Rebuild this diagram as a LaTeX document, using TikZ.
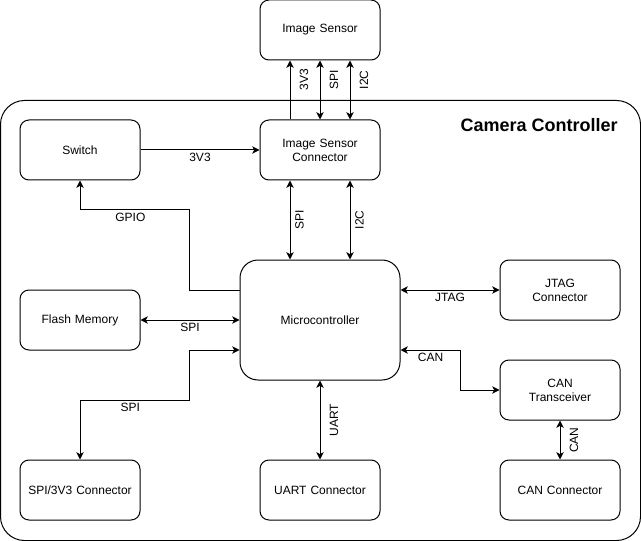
\documentclass[tikz,border=0pt]{standalone}
\usepackage{fontspec}
\setmainfont{Liberation Sans}
\usepackage{tikz}
\usetikzlibrary{shapes,arrows,arrows.meta}
\usetikzlibrary{positioning}
\tikzstyle{arrow} = [line width=0.75pt,->,>={Stealth[length=5.5pt,width=5.5pt,inset=1.5pt]}]
\tikzstyle{biarrow} = [line width=0.75pt,<->,>={Stealth[length=5.5pt,width=5.5pt,inset=1.5pt]}]
\tikzstyle{block} = [
    rectangle, rounded corners=6.75pt, minimum width=90pt, minimum height=45pt,
    text centered, text width=80pt, draw=black, line width=0.75pt,
    font=\fontsize{9}{10.5}\selectfont]
\tikzstyle{frame} = [
    rectangle, rounded corners=18pt, minimum width=480pt, minimum height=330pt,
    inner sep=0pt, outer sep=0pt, draw=black, line width=0.75pt]
\tikzstyle{hlabel} = [font=\fontsize{9}{10.5}\selectfont, inner sep=2pt, below]
\tikzstyle{vlabel} = [font=\fontsize{9}{10.5}\selectfont, inner sep=7pt, rotate=90, anchor=north]

\begin{document}
\begin{tikzpicture}[x=0.75pt, y=-0.75pt, node distance=180pt]
\useasboundingbox (0,0) rectangle (641,541);

% outer board
\node (cam) [frame] at (320.5,320.5) {};
\node (title) [anchor=east, inner sep=0pt, font=\fontsize{13.5}{16}\selectfont\bfseries] at (618,125) {Camera Controller};

% blocks
\node (isc) [block] at (320,150) {Image Sensor\\Connector};
\node (imgsensor) [block, above of=isc, node distance=90pt] {Image Sensor};
\node (switch) [block, left of=isc] {Switch};
\node (mcu) [block, minimum width=120pt, minimum height=90pt, text width=110pt,
    rounded corners=13.5pt] at (320,320) {Microcontroller};
\node (flash) [block, left of=mcu] {Flash Memory};
\node (jtag) [block] at (560,290) {JTAG\\Connector};
\node (cantrx) [block] at (560,390) {CAN\\Transceiver};
\node (uart) [block] at (320,490) {UART Connector};
\node (spiconn) [block, left of=uart] {SPI/3V3 Connector};
\node (canconn) [block, right of=uart] {CAN Connector};

% image sensor link
\draw [arrow] ([xshift=-22.5pt]isc.north) -- node[vlabel, pos=0.67] {3V3} ([xshift=-22.5pt]imgsensor.south);
\draw [biarrow] (isc.north) -- node[vlabel, pos=0.67] {SPI} (imgsensor.south);
\draw [biarrow] ([xshift=22.5pt]isc.north) -- node[vlabel, pos=0.67] {I2C} ([xshift=22.5pt]imgsensor.south);

% power and control
\draw [arrow] (switch.east) -- node[hlabel] {3V3} (isc.west);
\draw [arrow] ([yshift=22.5pt]mcu.west) -- ++(-50,0) -- ++(0,-80)
    -| node[hlabel, pos=0.27] {GPIO} (switch.south);

% microcontroller buses
\draw [biarrow] ([xshift=-22.5pt]isc.south) -- node[vlabel, inner sep=3.5pt] {SPI} ([xshift=-22.5pt]isc.south |- mcu.north);
\draw [biarrow] ([xshift=22.5pt]isc.south) -- node[vlabel, inner sep=3.5pt] {I2C} ([xshift=22.5pt]isc.south |- mcu.north);
\draw [biarrow] (flash.east) -- node[hlabel] {SPI} (flash.east -| mcu.west);
\draw [biarrow] ([yshift=-22.5pt]mcu.west) -- ++(-50,0) -- ++(0,50)
    -| node[hlabel, pos=0.27] {SPI} (spiconn.north);
\draw [biarrow] (jtag.west -| mcu.east) -- node[hlabel] {JTAG} (jtag.west);
\draw [biarrow] ([yshift=-22.5pt]mcu.east) -- node[hlabel] {CAN} ++(60,0) |- (cantrx.west);
\draw [biarrow] (mcu.south) -- node[vlabel] {UART} (uart.north);
\draw [biarrow] (cantrx.south) -- node[vlabel] {CAN} (canconn.north);
\end{tikzpicture}
\end{document}
